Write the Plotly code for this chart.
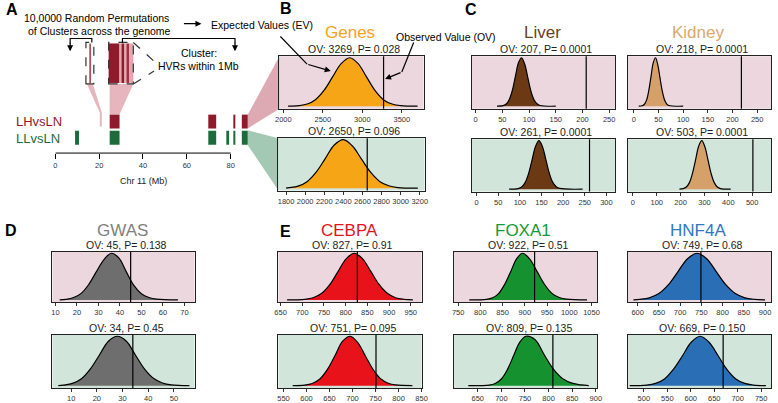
import plotly.graph_objects as go

# ---------------- data ----------------
# panel A: cluster positions on chr 11 (Mb)
rows = ['LLvsLN', 'LHvsLN']
lh_start = [24.8, 69.8, 81.5, 85.1]
lh_end = [29.3, 73.4, 82.0, 87.8]
ll_start = [9.0, 24.8, 69.8, 78.4, 81.5, 85.1]
ll_end = [10.8, 29.3, 73.4, 79.3, 82.0, 87.8]
chr_ticks = [0, 20, 40, 60, 80]

# permutation densities (x = count, y = relative density)
genes_lh_x = [2060, 2195, 2302, 2410, 2517, 2625, 2732, 2840, 2947, 3055, 3162, 3270, 3377, 3485, 3700]
genes_lh_y = [0, 0.012, 0.045, 0.14, 0.33, 0.61, 0.88, 1.0, 0.88, 0.6, 0.32, 0.13, 0.045, 0.012, 0]
genes_ll_x = [1800, 1830, 1925, 2020, 2115, 2210, 2305, 2400, 2495, 2590, 2685, 2780, 2875, 2970, 3180]
genes_ll_y = [0, 0.01, 0.043, 0.135, 0.33, 0.61, 0.89, 1.0, 0.87, 0.6, 0.33, 0.14, 0.05, 0.012, 0]
liver_lh_x = [40, 51.5, 57.3, 63, 68.8, 74.5, 80.3, 86, 91.8, 97.5, 103.3, 109, 114.8, 120.5, 150]
liver_lh_y = [0, 0.012, 0.045, 0.14, 0.33, 0.62, 0.9, 1.0, 0.87, 0.6, 0.32, 0.14, 0.05, 0.015, 0]
kidney_lh_x = [10, 17, 21.5, 26, 30.5, 35, 39.5, 44, 48.5, 53, 57.5, 62, 66.5, 71, 100]
kidney_lh_y = [0, 0.01, 0.04, 0.13, 0.33, 0.62, 0.9, 1.0, 0.86, 0.59, 0.32, 0.14, 0.05, 0.015, 0]
liver_ll_x = [75, 96, 104, 112, 120, 128, 136, 144, 152, 160, 168, 176, 184, 192, 245]
liver_ll_y = [0, 0.012, 0.045, 0.135, 0.32, 0.6, 0.88, 1.0, 0.88, 0.61, 0.33, 0.14, 0.05, 0.015, 0]
kidney_ll_x = [195, 211, 224, 237, 250, 263, 276, 289, 302, 315, 328, 341, 354, 367, 410]
kidney_ll_y = [0, 0.01, 0.044, 0.135, 0.33, 0.61, 0.89, 1.0, 0.87, 0.6, 0.32, 0.135, 0.045, 0.012, 0]
gwas_lh_x = [12, 15, 18.5, 22, 25.5, 29, 32.5, 36, 39.5, 43, 46.5, 50, 53.5, 57, 67]
gwas_lh_y = [0, 0.012, 0.05, 0.14, 0.33, 0.6, 0.86, 1.0, 0.9, 0.6, 0.31, 0.13, 0.05, 0.015, 0]
gwas_ll_x = [5, 7, 10.5, 14, 17.5, 21, 24.5, 28, 31.5, 35, 38.5, 42, 45.5, 49, 56]
gwas_ll_y = [0, 0.012, 0.045, 0.14, 0.34, 0.62, 0.9, 1.0, 0.9, 0.62, 0.34, 0.15, 0.055, 0.015, 0]
cebpa_lh_x = [665, 706, 725, 744, 763, 782, 801, 820, 839, 858, 877, 896, 915, 934, 955]
cebpa_lh_y = [0, 0.012, 0.045, 0.135, 0.32, 0.6, 0.88, 1.0, 0.88, 0.61, 0.33, 0.14, 0.045, 0.012, 0]
cebpa_ll_x = [570, 596, 612.5, 629, 645.5, 662, 678.5, 695, 711.5, 728, 744.5, 761, 777.5, 794, 830]
cebpa_ll_y = [0, 0.012, 0.045, 0.135, 0.33, 0.61, 0.9, 1.0, 0.87, 0.6, 0.33, 0.14, 0.05, 0.014, 0]
foxa1_lh_x = [775, 814, 827.5, 841, 854.5, 868, 881.5, 895, 911.5, 928, 944.5, 961, 977.5, 994, 1040]
foxa1_lh_y = [0, 0.012, 0.045, 0.135, 0.33, 0.6, 0.88, 1.0, 0.87, 0.6, 0.33, 0.14, 0.05, 0.015, 0]
foxa1_ll_x = [630, 674, 687, 700, 713, 726, 739, 752, 771.5, 791, 810.5, 830, 849.5, 869, 885]
foxa1_ll_y = [0, 0.012, 0.045, 0.135, 0.33, 0.61, 0.88, 1.0, 0.93, 0.62, 0.33, 0.14, 0.05, 0.014, 0]
hnf4a_lh_x = [590, 605, 627.5, 650, 672.5, 695, 717.5, 740, 762.5, 785, 807.5, 830, 852.5, 875, 900]
hnf4a_lh_y = [0, 0.011, 0.044, 0.135, 0.325, 0.607, 0.882, 1.0, 0.882, 0.607, 0.325, 0.135, 0.044, 0.011, 0]
hnf4a_ll_x = [470, 506, 525, 544, 563, 582, 601, 620, 639, 658, 677, 696, 715, 734, 760]
hnf4a_ll_y = [0, 0.012, 0.045, 0.135, 0.33, 0.6, 0.88, 1.0, 0.88, 0.61, 0.33, 0.135, 0.045, 0.012, 0]

# observed values and p-values, in panel order
ov_values = [3269, 2650, 207, 218, 261, 503, 45, 34, 827, 751, 922, 809, 749, 669]
p_values = ['0.028', '0.096', '0.0001', '0.0001', '0.0001', '0.0001', '0.138', '0.45',
            '0.91', '0.095', '0.51', '0.135', '0.68', '0.150']

W, H = 778, 403
FONT = 'Liberation Sans, Arial, sans-serif'


def fx(px):
    return px / W


def fy(py):
    return 1 - py / H


PINK = '#EBD7DD'
GREEN = '#D2E5DA'

# per panel: x, y, fill, box (x0, y0, x1, y1 px), range, ticks, bg
panels = [
    (genes_lh_x, genes_lh_y, '#F5A516', (279, 57, 425, 110), [1950, 3775], [2000, 2500, 3000, 3500], PINK),
    (genes_ll_x, genes_ll_y, '#F5A516', (278, 140, 426, 193), [1720, 3250], list(range(1800, 3201, 200)), GREEN),
    (liver_lh_x, liver_lh_y, '#6B3A14', (474, 57, 619, 110), [-7, 261], list(range(0, 251, 50)), PINK),
    (kidney_lh_x, kidney_lh_y, '#D6A06A', (632, 57, 777, 110), [-12, 278], list(range(0, 251, 50)), PINK),
    (liver_ll_x, liver_ll_y, '#6B3A14', (474, 141, 619, 194), [-11, 320], list(range(0, 301, 50)), GREEN),
    (kidney_ll_x, kidney_ll_y, '#D6A06A', (632, 141, 777, 194), [-21, 579], list(range(0, 501, 100)), GREEN),
    (gwas_lh_x, gwas_lh_y, '#6E6E6E', (49, 255, 193, 306), [8.6, 74.7], list(range(10, 71, 10)), PINK),
    (gwas_ll_x, gwas_ll_y, '#6E6E6E', (49, 339, 193, 393), [2.7, 58], list(range(10, 51, 10)), GREEN),
    (cebpa_lh_x, cebpa_lh_y, '#E8121B', (278, 255, 423, 306), [645, 975], list(range(650, 951, 50)), PINK),
    (cebpa_ll_x, cebpa_ll_y, '#E8121B', (278, 339, 423, 393), [539, 850], list(range(550, 851, 50)), GREEN),
    (foxa1_lh_x, foxa1_lh_y, '#15922F', (456, 255, 601, 306), [741, 1063], list(range(750, 1051, 50)), PINK),
    (foxa1_ll_x, foxa1_ll_y, '#15922F', (456, 339, 601, 393), [600, 903], list(range(650, 901, 50)), GREEN),
    (hnf4a_lh_x, hnf4a_lh_y, '#2A6FB6', (632, 255, 777, 306), [577, 914], list(range(600, 901, 50)), PINK),
    (hnf4a_ll_x, hnf4a_ll_y, '#2A6FB6', (632, 339, 777, 393), [466, 771], list(range(500, 751, 50)), GREEN),
]

fig = go.Figure()
shapes = []
annotations = []
layout = {}


def note(px, py, text, size, color, **kw):
    # text centred on a figure pixel
    d = dict(x=fx(px), y=fy(py), xref='paper', yref='paper', xanchor='center', yanchor='middle',
             text=text, showarrow=False, font=dict(size=size, color=color))
    d.update(kw)
    annotations.append(d)


# ---------------- panel A bars ----------------
fig.add_trace(go.Bar(y=['LHvsLN'] * len(lh_start), x=[e - s for s, e in zip(lh_start, lh_end)],
                     base=lh_start, orientation='h', width=0.87, marker=dict(color='#8E1B2C', line_width=0),
                     xaxis='x', yaxis='y', showlegend=False, hoverinfo='skip'))
fig.add_trace(go.Bar(y=['LLvsLN'] * len(ll_start), x=[e - s for s, e in zip(ll_start, ll_end)],
                     base=ll_start, orientation='h', width=0.87, marker=dict(color='#1D6B3A', line_width=0),
                     xaxis='x', yaxis='y', showlegend=False, hoverinfo='skip'))
layout['xaxis'] = dict(domain=[fx(52), fx(252)], range=[0, 200 / 2.22], anchor='y', tickvals=chr_ticks,
                       ticks='outside', ticklen=5, tickcolor='black', showline=False, showgrid=False,
                       zeroline=False, tickangle=0, tickfont=dict(size=7.5, color='#333'))
layout['yaxis'] = dict(domain=[fy(155), fy(116)], range=[-0.94, 1.42], anchor='x', type='category',
                       categoryorder='array', categoryarray=rows, visible=False)
shapes.append(dict(type='line', xref='x', yref='paper', x0=0, x1=80, y0=fy(155), y1=fy(155),
                   line=dict(color='black', width=1)))
note(141, 183, 'Chr 11 (Mb)', 9, '#222')
note(10, 123, 'LHvsLN', 13, '#8E1B2C', xanchor='left')
note(10, 140, 'LLvsLN', 13, '#1D6B3A', xanchor='left')

# ---------------- density panels ----------------
for i, (xs, ys, col, box, rng, ticks, bg) in enumerate(panels):
    n = i + 2
    x0, y0, x1, y1 = box
    fig.add_trace(go.Scatter(x=xs, y=ys, mode='lines', fill='tozeroy', fillcolor=col,
                             line=dict(color='black', width=1.2, shape='spline', smoothing=1),
                             xaxis=f'x{n}', yaxis=f'y{n}', showlegend=False, hoverinfo='skip'))
    layout[f'xaxis{n}'] = dict(domain=[fx(x0), fx(x1)], range=rng, anchor=f'y{n}', tickvals=ticks,
                               ticks='outside', ticklen=3, tickcolor='#333', showline=True, mirror=True,
                               linecolor='#222', linewidth=1, showgrid=False, zeroline=False, tickangle=0,
                               tickfont=dict(size=7.5, color='#333'))
    layout[f'yaxis{n}'] = dict(domain=[fy(y1), fy(y0)], range=[-0.05, 1.03], anchor=f'x{n}',
                               showticklabels=False, ticks='', showline=True, mirror=True,
                               linecolor='#222', linewidth=1, showgrid=False, zeroline=False)
    shapes.append(dict(type='rect', xref=f'x{n} domain', yref=f'y{n} domain', x0=0, x1=1, y0=0, y1=1,
                       fillcolor=bg, line_width=0, layer='below'))
    shapes.append(dict(type='line', xref=f'x{n}', yref=f'y{n} domain', x0=ov_values[i], x1=ov_values[i],
                       y0=0, y1=1, line=dict(color='black', width=1.2)))
    note((x0 + x1) / 2 + 3, y0 - 7, f'OV: {ov_values[i]}, P= {p_values[i]}', 10.5, '#222')

# panel titles
title_colors = {'Genes': '#F5A31A', 'Liver': '#6B3E1A', 'Kidney': '#D9A86E', 'GWAS': '#7F7F7F',
                'CEBPA': '#E3141E', 'FOXA1': '#159A38', 'HNF4A': '#2E78C0'}
title_pos = {'Genes': (351, 33), 'Liver': (546, 33), 'Kidney': (703, 33), 'GWAS': (120, 233),
             'CEBPA': (350, 233), 'FOXA1': (526, 233), 'HNF4A': (703, 233)}
for name, (px, py) in title_pos.items():
    note(px, py, name, 17, title_colors[name])

for lab, px, py in [('A', 8, 10), ('B', 286, 9), ('C', 473, 10), ('D', 7, 233), ('E', 285, 234)]:
    note(px, py, f'<b>{lab}</b>', 16, 'black')


# ---------------- schematic for panel A ----------------
def path(points, close=True):
    s = 'M ' + ' L '.join(f'{fx(x):.5f},{fy(y):.5f}' for x, y in points)
    return s + (' Z' if close else '')


for pts, col in [([(84, 85), (90, 85), (99, 114), (99, 128), (97, 128), (97, 114)], '#E6B5BD'),
                 ([(107, 85), (131, 85), (117, 116), (107, 116)], '#E6B5BD'),
                 ([(247, 116), (279, 57), (279, 110), (247, 130)], '#DDAAB4'),
                 ([(247, 132), (278, 140), (278, 193), (247, 147)], '#A3C9B4')]:
    shapes.append(dict(type='path', xref='paper', yref='paper', path=path(pts), fillcolor=col,
                       line_width=0, layer='below'))

# stripes inside the zoomed cluster box
for a, b, col in [(106, 117, '#8E1B2C'), (117, 119, '#E3A7B0'), (119, 122, '#8E1B2C'), (122, 124, '#E3A7B0'),
                  (124, 127, '#A3303F'), (127, 131, '#E3A7B0')]:
    shapes.append(dict(type='rect', xref='paper', yref='paper', x0=fx(a), x1=fx(b), y0=fy(84), y1=fy(44),
                       fillcolor=col, line_width=0))
shapes.append(dict(type='rect', xref='paper', yref='paper', x0=fx(86.5), x1=fx(88), y0=fy(84), y1=fy(44),
                   fillcolor='#A3303F', line_width=0))
for a, b in [(83, 91), (106, 131)]:
    shapes.append(dict(type='rect', xref='paper', yref='paper', x0=fx(a), x1=fx(b), y0=fy(85), y1=fy(43),
                       line=dict(color='#333', width=1.2, dash='dash')))
for p0, p1 in [((131, 43), (152, 62)), ((131, 85), (152, 72))]:
    shapes.append(dict(type='line', xref='paper', yref='paper', x0=fx(p0[0]), y0=fy(p0[1]),
                       x1=fx(p1[0]), y1=fy(p1[1]), line=dict(color='#333', width=1.2, dash='dash')))

# bracket and pointer lines
for pts in [[(89, 43), (89, 39), (67, 39), (67, 44)], [(120, 43), (120, 39), (234, 39), (234, 44)],
            [(280, 37), (307, 65)], [(415, 43), (403, 73)]]:
    shapes.append(dict(type='path', xref='paper', yref='paper', path=path(pts, close=False),
                       line=dict(color='black', width=1.2)))

# arrow heads: head position in paper coords, tail offset in pixels
for head, tail in [((67, 52), (67, 42)), ((234, 52), (234, 42)), ((200, 24), (181, 24)),
                   ((331, 72), (307, 65)), ((386, 80), (403, 73))]:
    annotations.append(dict(x=fx(head[0]), y=fy(head[1]), ax=tail[0] - head[0], ay=tail[1] - head[1],
                            xref='paper', yref='paper', axref='pixel', ayref='pixel', text='',
                            showarrow=True, arrowhead=2, arrowsize=1, arrowwidth=1.2, arrowcolor='black',
                            standoff=0, startstandoff=0))

for txt, px, py in [('10,0000 Random Permutations', 94, 18), ('of Clusters across the genome', 97, 31),
                    ('Expected Values (EV)', 261, 25), ('Observed Value (OV)', 448, 37),
                    ('Cluster:', 198, 54), ('HVRs within 1Mb', 197, 67)]:
    note(px, py, txt, 10.5, 'black')

fig.update_layout(width=W, height=H, margin=dict(l=0, r=0, t=0, b=0), paper_bgcolor='white',
                  plot_bgcolor='rgba(0,0,0,0)', font=dict(family=FONT), shapes=shapes,
                  annotations=annotations, barmode='overlay', **layout)

# the page body has a default margin; drop it so figure pixels line up with the window
fig.write_html("out.html", config={'displayModeBar': False},
               post_script="document.body.style.margin='0';")
